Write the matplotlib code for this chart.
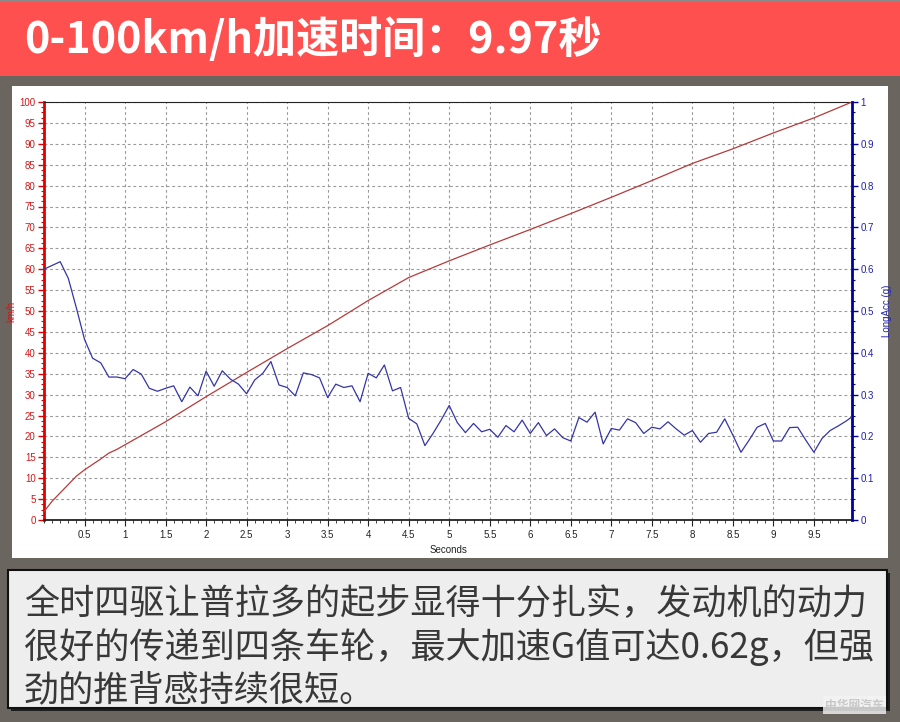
import numpy as np
import matplotlib.pyplot as plt
from matplotlib.patches import Rectangle
from matplotlib.ticker import MultipleLocator, AutoMinorLocator

#Speed trace (km/h)
t_speed = [0.0, 0.1, 0.2, 0.3, 0.4, 0.5, 0.6, 0.7, 0.8, 0.9, 1.0, 1.5, 2.0, 2.5, 3.0, 3.5,
           4.0, 4.5, 5.0, 5.5, 6.0, 6.5, 7.0, 7.5, 8.0, 8.5, 9.0, 9.5, 9.97]
speed = [2.0, 4.5, 6.5, 8.5, 10.5, 12.0, 13.3, 14.6, 16.0, 16.9, 18.0, 23.5, 29.5, 35.3, 41.0, 46.5,
         52.5, 58.0, 62.0, 65.8, 69.5, 73.3, 77.2, 81.2, 85.3, 88.8, 92.6, 96.2, 100.0]

#Longitudinal acceleration trace (g)
t_acc = [0.0, 0.1, 0.2, 0.3, 0.4, 0.5, 0.6, 0.7, 0.8, 0.9,
         1.0, 1.1, 1.2, 1.3, 1.4, 1.5, 1.6, 1.7, 1.8, 1.9,
         2.0, 2.1, 2.2, 2.3, 2.4, 2.5, 2.6, 2.7, 2.8, 2.9,
         3.0, 3.1, 3.2, 3.3, 3.4, 3.5, 3.6, 3.7, 3.8, 3.9,
         4.0, 4.1, 4.2, 4.3, 4.4, 4.5, 4.6, 4.7, 4.8, 4.9,
         5.0, 5.1, 5.2, 5.3, 5.4, 5.5, 5.6, 5.7, 5.8, 5.9,
         6.0, 6.1, 6.2, 6.3, 6.4, 6.5, 6.6, 6.7, 6.8, 6.9,
         7.0, 7.1, 7.2, 7.3, 7.4, 7.5, 7.6, 7.7, 7.8, 7.9,
         8.0, 8.1, 8.2, 8.3, 8.4, 8.5, 8.6, 8.7, 8.8, 8.9,
         9.0, 9.1, 9.2, 9.3, 9.4, 9.5, 9.6, 9.7, 9.8, 9.9, 9.97]
acc = [0.600, 0.609, 0.618, 0.578, 0.507, 0.432, 0.387, 0.376, 0.342, 0.342,
       0.338, 0.360, 0.349, 0.315, 0.308, 0.315, 0.321, 0.283, 0.318, 0.297,
       0.356, 0.320, 0.357, 0.337, 0.325, 0.302, 0.335, 0.351, 0.379, 0.323,
       0.317, 0.297, 0.352, 0.348, 0.340, 0.293, 0.325, 0.317, 0.321, 0.283,
       0.351, 0.340, 0.371, 0.309, 0.317, 0.243, 0.230, 0.178, 0.207, 0.239,
       0.274, 0.233, 0.209, 0.231, 0.211, 0.217, 0.198, 0.226, 0.211, 0.239,
       0.207, 0.233, 0.202, 0.218, 0.197, 0.189, 0.245, 0.234, 0.258, 0.182,
       0.219, 0.215, 0.242, 0.233, 0.207, 0.222, 0.218, 0.235, 0.218, 0.203,
       0.214, 0.186, 0.207, 0.210, 0.242, 0.203, 0.162, 0.191, 0.222, 0.231,
       0.189, 0.189, 0.221, 0.222, 0.191, 0.162, 0.195, 0.214, 0.225, 0.237, 0.247]

x_ticks = [0.5, 1, 1.5, 2, 2.5, 3, 3.5, 4, 4.5, 5, 5.5, 6, 6.5, 7, 7.5, 8, 8.5, 9, 9.5]
x_labels = ['0.5', '1', '1.5', '2', '2.5', '3', '3.5', '4', '4.5', '5',
            '5.5', '6', '6.5', '7', '7.5', '8', '8.5', '9', '9.5']
g_ticks = [0, 0.1, 0.2, 0.3, 0.4, 0.5, 0.6, 0.7, 0.8, 0.9, 1.0]
g_labels = ['0', '0.1', '0.2', '0.3', '0.4', '0.5', '0.6', '0.7', '0.8', '0.9', '1']

title = '0-100km/h加速时间：9.97秒'
caption = ['全时四驱让普拉多的起步显得十分扎实，发动机的动力',
           '很好的传递到四条车轮，最大加速G值可达0.62g，但强',
           '劲的推背感持续很短。']

plt.rcParams['font.family'] = ['Noto Sans CJK SC', 'DejaVu Sans']

fig = plt.figure(figsize=(9, 7.22), dpi=100, facecolor='#6b6560')

#header band
fig.patches.append(Rectangle((0, 1 - 76 / 722), 1, 76 / 722, transform=fig.transFigure,
                             facecolor='#ff5050', edgecolor='none', zorder=0))
fig.patches.append(Rectangle((0, 1 - 2 / 722), 1, 2 / 722, transform=fig.transFigure,
                             facecolor='#8a8a8a', edgecolor='none', zorder=1))
fig.text(24 / 900, 1 - 40 / 722, title, color='white', fontsize=31, fontweight='bold',
         va='center', ha='left')

#white chart panel
fig.patches.append(Rectangle((12 / 900, 1 - 558 / 722), 876 / 900, 472 / 722,
                             transform=fig.transFigure, facecolor='white', edgecolor='none', zorder=0))

#caption box with shadow
fig.patches.append(Rectangle((11 / 900, 1 - 711 / 722), 879 / 900, 138 / 722,
                             transform=fig.transFigure, facecolor='#1e1e1e', edgecolor='none', zorder=0))
fig.patches.append(Rectangle((8 / 900, 1 - 708 / 722), 879 / 900, 138 / 722,
                             transform=fig.transFigure, facecolor='#eeeeee', edgecolor='#111111',
                             linewidth=1.5, zorder=1))
for i, line in enumerate(caption):
    fig.text(24 / 900, 1 - (604 + i * 43) / 722, line, color='#383838', fontsize=25.3,
             va='center', ha='left', zorder=2)

#watermark
fig.text(884 / 900, 1 - 705 / 722, '中华网汽车', color='#c8c8c8', fontsize=8.5, fontweight='bold',
         ha='right', va='center', zorder=3,
         bbox=dict(facecolor='#f4f4f4', edgecolor='none', pad=1.5, alpha=0.8))

#chart
ax = fig.add_axes([44 / 900, 1 - 520 / 722, 808 / 900, 418 / 722])
ax.set_zorder(5)
ax.patch.set_alpha(0)
ax.plot(t_speed, speed, color='#b53a3a', linewidth=0.9, zorder=3)
ax.set_xlim(0, 9.97)
ax.set_ylim(0, 100)
ax.set_xticks(x_ticks)
ax.set_xticklabels(x_labels)
ax.xaxis.set_minor_locator(MultipleLocator(0.1))
ax.yaxis.set_major_locator(MultipleLocator(5))
ax.yaxis.set_minor_locator(AutoMinorLocator(4))
ax.grid(True, which='major', color='#9a9a9a', linestyle=(0, (2.5, 2.5)), linewidth=0.8)

ax.tick_params(axis='x', which='major', length=4, width=0.8, colors='#222222', labelsize=7)
ax.tick_params(axis='x', which='minor', length=2, width=0.6, colors='#222222')
ax.tick_params(axis='y', which='major', length=4, width=1, colors='#e00000', labelcolor='#d01818', labelsize=7, pad=2)
ax.tick_params(axis='y', which='minor', length=2, width=0.8, colors='#e00000')
for lab in ax.get_xticklabels() + ax.get_yticklabels():
    lab.set_fontfamily('Liberation Sans')

ax.spines['left'].set_color('#e00000')
ax.spines['left'].set_linewidth(2)
ax.spines['top'].set_color('#222222')
ax.spines['bottom'].set_color('#222222')
ax.spines['bottom'].set_linewidth(1.3)
ax.spines['right'].set_visible(False)
ax.set_xlabel('Seconds', fontsize=7, family='Liberation Sans', color='#222222', labelpad=3)
ax.set_ylabel('km/h', fontsize=7, family='Liberation Sans', color='#d01818')
ax.yaxis.set_label_coords(-28 / 808, 0.5)

ax2 = ax.twinx()
ax2.set_zorder(6)
ax2.patch.set_alpha(0)
ax2.plot(t_acc, acc, color='#3535a5', linewidth=0.9, zorder=3)
ax2.set_ylim(0, 1)
ax2.set_yticks(g_ticks)
ax2.set_yticklabels(g_labels, fontfamily='Liberation Sans')
ax2.yaxis.set_minor_locator(AutoMinorLocator(4))
ax2.tick_params(axis='y', which='major', length=4, width=1, colors='#0000a0', labelcolor='#2020b0', labelsize=7, pad=2)
ax2.tick_params(axis='y', which='minor', length=2, width=0.8, colors='#0000a0')
for sp in ['left', 'top', 'bottom']:
    ax2.spines[sp].set_visible(False)
ax2.spines['right'].set_color('#0000a0')
ax2.spines['right'].set_linewidth(2)
ax2.set_ylabel('LongAcc (g)', fontsize=7, family='Liberation Sans', color='#2020b0')
ax2.yaxis.set_label_coords(1 + 30 / 808, 0.5)

fig.savefig('out.png', dpi=100, facecolor=fig.get_facecolor())
